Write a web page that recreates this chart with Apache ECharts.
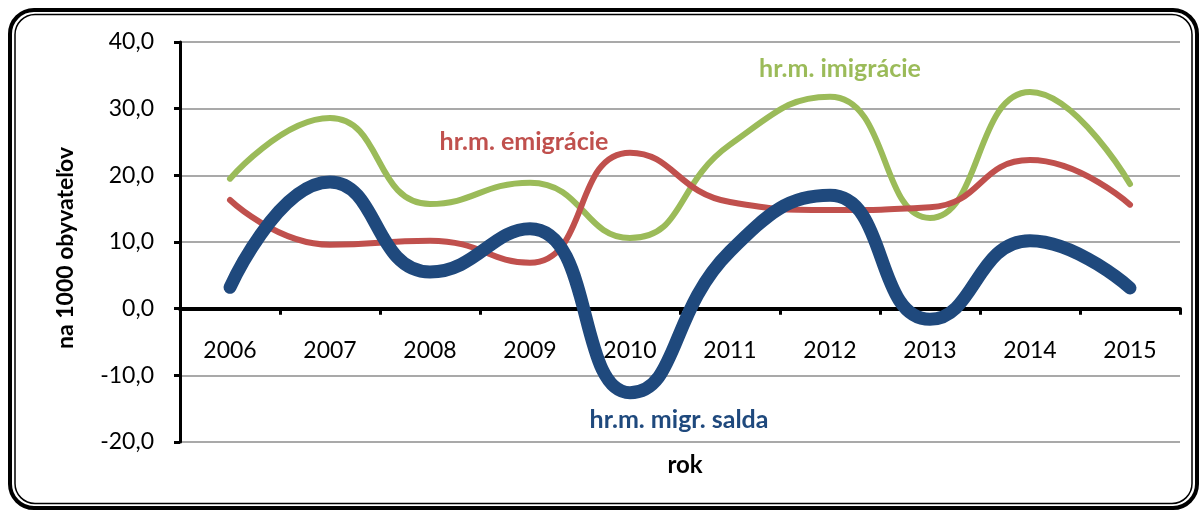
<!DOCTYPE html>
<html>
<head>
<meta charset="utf-8">
<script src="https://cdn.jsdelivr.net/npm/echarts@6/dist/echarts.min.js"></script>
<style>
    html, body {margin: 0; padding: 0; background: #fff;}
    #chart {width: 1200px; height: 510px;}
</style>
</head>
<body>
<div id="chart"></div>
<script>
"use strict";
// roky a hodnoty (na 1000 obyvatelov)
var years = ['2006', '2007', '2008', '2009', '2010', '2011', '2012', '2013', '2014', '2015'];
var imigracia = [19.5, 28.6, 15.7, 18.9, 10.6, 24.6, 31.8, 13.6, 32.5, 18.7];
var emigracia = [16.3, 9.6, 10.2, 6.9, 23.4, 16.0, 14.8, 15.2, 22.3, 15.6];
var saldo = [3.2, 19.0, 5.5, 12.0, -12.6, 8.6, 17.0, -1.6, 10.2, 3.1];
var yMin = -20, yMax = 40, yStep = 10;

var FONT = 'Lato, "Noto Sans"';
var gridTop = 42, gridBottom = 68;
var plotH = 510 - gridTop - gridBottom;
// x os lezi na nule, preto ju posunieme nahor
var zeroOffset = -(0 - yMin) / (yMax - yMin) * plotH;

var chart = echarts.init(document.getElementById('chart'));

function lineSeries(name, data, color, width) {
    return {
        name: name, type: 'line', data: data, smooth: 0.5, symbol: 'none',
        lineStyle: {color: color, width: width, cap: 'round', join: 'round'}
    };
}

chart.setOption({
    animation: false,
    grid: {left: 180, right: 20, top: gridTop, bottom: gridBottom},
    xAxis: {
        type: 'category', data: years, boundaryGap: true, position: 'bottom', offset: zeroOffset,
        axisLine: {onZero: false, lineStyle: {color: '#000', width: 4}},
        axisTick: {show: true, length: 6, lineStyle: {color: '#000', width: 3}},
        axisLabel: {margin: 30, fontFamily: FONT, fontSize: 23, color: '#000'},
        splitLine: {show: false}
    },
    yAxis: {
        type: 'value', min: yMin, max: yMax, interval: yStep,
        axisLine: {show: true, onZero: false, lineStyle: {color: '#000', width: 3}},
        axisTick: {show: true, length: 6, lineStyle: {color: '#000', width: 3}},
        axisLabel: {
            margin: 26, fontFamily: FONT, fontSize: 23, color: '#000',
            formatter: function (v) { return v.toFixed(1).replace('.', ','); }
        },
        splitLine: {show: true, lineStyle: {color: '#8c8c8c', width: 1.5}}
    },
    series: [
        lineSeries('hr.m. imigrácie', imigracia, '#9bbb59', 6),
        lineSeries('hr.m. emigrácie', emigracia, '#c0504d', 6),
        lineSeries('hr.m. migr. salda', saldo, '#1f497d', 13)
    ],
    graphic: [
        {type: 'rect', shape: {x: 10, y: 10, width: 1187, height: 498, r: 24}, style: {fill: null, stroke: '#000', lineWidth: 4}, z: 10},
        {type: 'rect', shape: {x: 15, y: 14.5, width: 1177, height: 489, r: 20}, style: {fill: null, stroke: '#000', lineWidth: 1.5}, z: 10},
        {type: 'text', x: 66, y: 248, rotation: Math.PI / 2, style: {text: 'na 1000 obyvateľov', fontFamily: FONT, fontWeight: 'bold', fontSize: 23, fill: '#000', align: 'center', verticalAlign: 'middle'}},
        {type: 'text', x: 685, y: 465, style: {text: 'rok', fontFamily: FONT, fontWeight: 'bold', fontSize: 24, fill: '#000', align: 'center', verticalAlign: 'middle'}},
        {type: 'text', x: 840, y: 69, style: {text: 'hr.m. imigrácie', fontFamily: FONT, fontWeight: 'bold', fontSize: 25, fill: '#9bbb59', align: 'center', verticalAlign: 'middle'}},
        {type: 'text', x: 524, y: 142, style: {text: 'hr.m. emigrácie', fontFamily: FONT, fontWeight: 'bold', fontSize: 25, fill: '#c0504d', align: 'center', verticalAlign: 'middle'}},
        {type: 'text', x: 679, y: 420, style: {text: 'hr.m. migr. salda', fontFamily: FONT, fontWeight: 'bold', fontSize: 25, fill: '#1f497d', align: 'center', verticalAlign: 'middle'}}
    ]
});
</script>
</body>
</html>
